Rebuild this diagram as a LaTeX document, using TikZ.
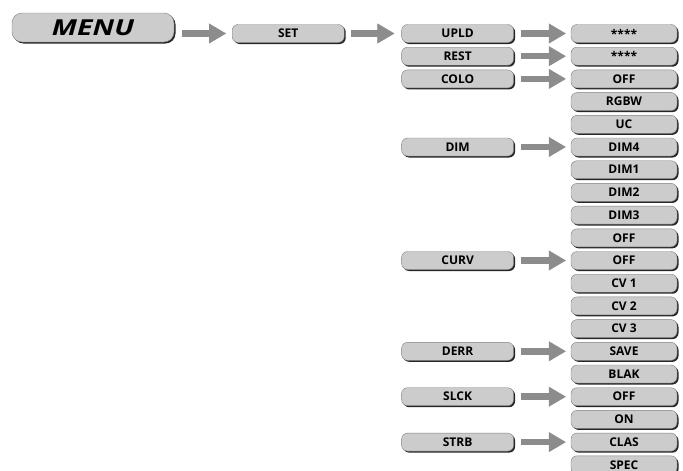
\documentclass[tikz,border=0pt]{standalone}
\usepackage{fontspec}
\setmainfont{Open Sans}
\newfontfamily\menufont{Open Sans}[FakeStretch=1.3]
\usepackage{tikz}
\usetikzlibrary{arrows.meta,shapes,positioning,shadows}
\tikzset{
    box/.style={
                draw=black!50,
                thin,
                fill=black!20,
                rounded corners=6pt,
                minimum height=18pt,
                inner sep=0pt,
                font=\bfseries\fontsize{12}{13}\selectfont,
                drop shadow={shadow xshift=1.5pt, shadow yshift=-1.5pt,
                             fill=black!85, opacity=1}
            },
        menubox/.style={
                box,
                rounded corners=10pt,
                minimum width=162pt,
                minimum height=29pt,
                font=\menufont\bfseries\itshape\fontsize{22}{24}\selectfont
            },
        setbox/.style={
                box,
                minimum width=112pt
            },
        itembox/.style={
                box,
                minimum width=112pt
            },
        valuebox/.style={
                box,
                minimum width=106pt
            },
}

\begin{document}
\begin{tikzpicture}[
    x=1pt, y=-1pt,
    node distance=4.3pt,
    bigarrow/.style={
        draw=black!45,
        line width=6.5pt,
        -{Triangle[length=17pt,width=20pt,line width=0.4pt,fill=black!45]}},
  ]
  \useasboundingbox (0,0) rectangle (683,471);
  % Menu
  \node[menubox] (menu) at (93,27.5) {MENU};
  % Values
  \node[valuebox] (upldval) at (624,33.5) {****};
  \node[valuebox, below=of upldval] (restval) {****};
  \node[valuebox, below=of restval] (colooff) {OFF};
  \node[valuebox, below=of colooff] (colorgbw) {RGBW};
  \node[valuebox, below=of colorgbw] (colouc) {UC};
  \node[valuebox, below=of colouc] (dimfour) {DIM4};
  \node[valuebox, below=of dimfour] (dimone) {DIM1};
  \node[valuebox, below=of dimone] (dimtwo) {DIM2};
  \node[valuebox, below=of dimtwo] (dimthree) {DIM3};
  \node[valuebox, below=of dimthree] (dimoff) {OFF};
  \node[valuebox, below=of dimoff] (curvoff) {OFF};
  \node[valuebox, below=of curvoff] (cvone) {CV 1};
  \node[valuebox, below=of cvone] (cvtwo) {CV 2};
  \node[valuebox, below=of cvtwo] (cvthree) {CV 3};
  \node[valuebox, below=of cvthree] (derrsave) {SAVE};
  \node[valuebox, below=of derrsave] (derrblak) {BLAK};
  \node[valuebox, below=of derrblak] (slckoff) {OFF};
  \node[valuebox, below=of slckoff] (slckon) {ON};
  \node[valuebox, below=of slckon] (strbclas) {CLAS};
  \node[valuebox, below=of strbclas] (strbspec) {SPEC};
  % Items
  \node[itembox, left=57pt of upldval] (upld) {UPLD};
  \node[itembox, left=57pt of restval] (rest) {REST};
  \node[itembox, left=57pt of colooff] (colo) {COLO};
  \node[itembox, left=57pt of dimfour] (dim) {DIM};
  \node[itembox, left=57pt of curvoff] (curv) {CURV};
  \node[itembox, left=57pt of derrsave] (derr) {DERR};
  \node[itembox, left=57pt of slckoff] (slck) {SLCK};
  \node[itembox, left=57pt of strbclas] (strb) {STRB};
  % Set
  \node[setbox, left=57pt of upld] (set) {SET};
  % Arrows
  \draw[bigarrow] ([xshift=8pt]menu.east |- set.west) -- ([xshift=-6pt]set.west);
  \draw[bigarrow] ([xshift=7pt]set.east) -- ([xshift=-7pt]upld.west);
  \draw[bigarrow] ([xshift=7pt]upld.east) -- ([xshift=-5pt]upldval.west);
  \draw[bigarrow] ([xshift=7pt]rest.east) -- ([xshift=-5pt]restval.west);
  \draw[bigarrow] ([xshift=7pt]colo.east) -- ([xshift=-5pt]colooff.west);
  \draw[bigarrow] ([xshift=7pt]dim.east) -- ([xshift=-5pt]dimfour.west);
  \draw[bigarrow] ([xshift=7pt]curv.east) -- ([xshift=-5pt]curvoff.west);
  \draw[bigarrow] ([xshift=7pt]derr.east) -- ([xshift=-5pt]derrsave.west);
  \draw[bigarrow] ([xshift=7pt]slck.east) -- ([xshift=-5pt]slckoff.west);
  \draw[bigarrow] ([xshift=7pt]strb.east) -- ([xshift=-5pt]strbclas.west);
\end{tikzpicture}
\end{document}
